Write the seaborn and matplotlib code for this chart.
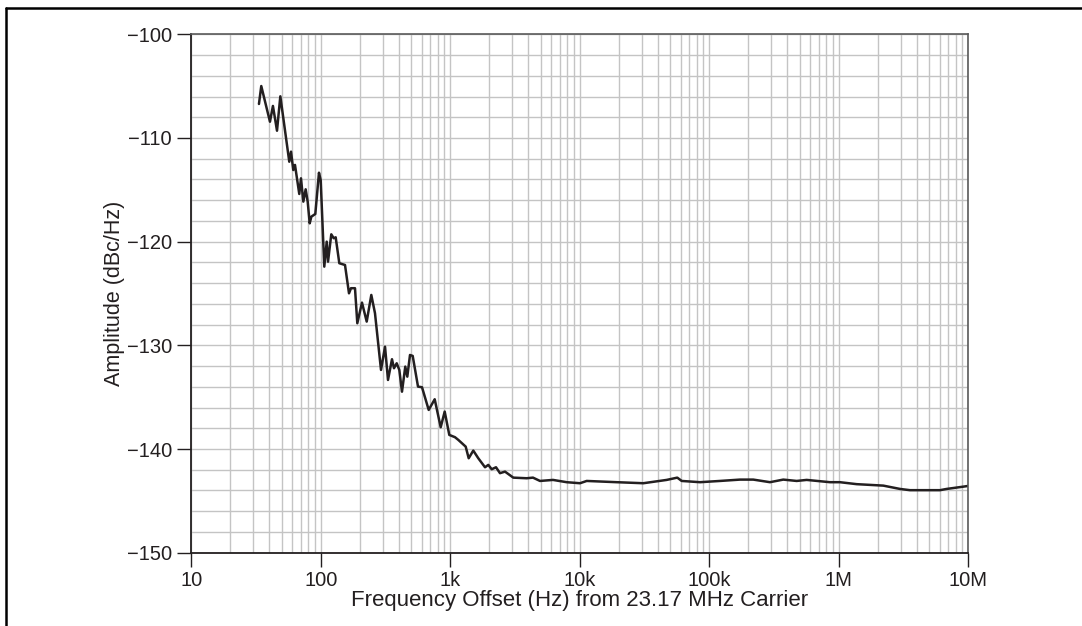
import numpy as np
import pandas as pd
import seaborn as sns
import matplotlib.pyplot as plt
from matplotlib.ticker import LogLocator, NullFormatter
from matplotlib.lines import Line2D

# Phase noise trace
freq_hz = [
    33.3, 34.7, 40.5, 42.7, 45.9, 48.7, 57.1, 58.9, 61.3, 63.2,
    68.2, 70.3, 73.3, 76.4, 79.2, 82.1, 84.5, 90.7, 96.8, 99.8,
    106.4, 111.1, 113.7, 120.5, 125.8, 130.3, 139, 153.8, 165.1, 171.1,
    183.7, 191.4, 208, 226.2, 245.5, 262.1, 291.7, 313.3, 330.3, 354.6,
    367.5, 385.6, 403.9, 423.6, 449.2, 465.6, 488.5, 512.5, 563.2, 604.7,
    681.1, 757.8, 843.1, 905.3, 982.4, 1087, 1153, 1315, 1387, 1505,
    1645, 1854, 1966, 2088, 2254, 2420, 2645, 3065, 3890, 4351,
    4928, 6209, 7920, 10035, 11310, 19270, 30930, 46880, 56600, 61220,
    84780, 120900, 172600, 218700, 294200, 372700, 473000, 565000, 855000, 1.021e6,
    1.375e6, 1.741e6, 2.206e6, 2.969e6, 3.546e6, 6.046e6, 6.81e6, 9.15e6, 1.0e7,
]
amplitude_dbc = [
    -106.72, -104.99, -108.43, -106.91, -109.30, -105.98, -112.29, -111.32, -113.09, -112.60,
    -115.40, -113.89, -116.14, -114.95, -116.14, -118.23, -117.59, -117.33, -113.35, -114.05,
    -122.41, -120.00, -121.93, -119.29, -119.67, -119.58, -122.08, -122.25, -124.98, -124.49,
    -124.49, -127.87, -125.88, -127.71, -125.14, -126.90, -132.37, -130.13, -133.34, -131.34,
    -132.21, -131.73, -132.37, -134.47, -132.05, -133.02, -130.93, -131.02, -133.98, -134.04,
    -136.23, -135.20, -137.90, -136.39, -138.64, -138.86, -139.12, -139.77, -140.89, -140.15,
    -140.89, -141.76, -141.53, -141.95, -141.76, -142.33, -142.18, -142.76, -142.82, -142.76,
    -143.08, -142.98, -143.20, -143.30, -143.08, -143.20, -143.30, -142.98, -142.76, -143.08,
    -143.20, -143.08, -142.95, -142.95, -143.20, -142.95, -143.08, -142.98, -143.20, -143.20,
    -143.39, -143.46, -143.53, -143.85, -143.97, -143.97, -143.85, -143.63, -143.56,
]

x_ticks = [10, 100, 1e3, 1e4, 1e5, 1e6, 1e7]
x_tick_labels = ["10", "100", "1k", "10k", "100k", "1M", "10M"]
y_ticks = [-150, -140, -130, -120, -110, -100]

df = pd.DataFrame({"freq": freq_hz, "amp": amplitude_dbc})

sns.set_theme(style="white")
plt.rcParams["font.family"] = ["Liberation Sans", "DejaVu Sans"]
text_color = "#231f20"

fig = plt.figure(figsize=(10.82, 6.26), dpi=100)
ax = fig.add_axes([0.1768, 0.1171, 0.8949 - 0.1768, 0.9452 - 0.1171])

sns.lineplot(data=df, x="freq", y="amp", ax=ax, color=text_color,
             linewidth=1.8, estimator=None, sort=False)

ax.set_xscale("log")
ax.set_xlim(10, 1e7)
ax.set_ylim(-150, -100)

ax.set_xticks(x_ticks, x_tick_labels)
ax.xaxis.set_minor_locator(LogLocator(base=10, subs=np.arange(2, 10)))
ax.xaxis.set_minor_formatter(NullFormatter())
ax.set_yticks(y_ticks)
ax.set_yticks(np.arange(-150, -99, 2), minor=True)

ax.grid(which="both", color="#c4c4c4", linewidth=1.0)
ax.set_axisbelow(True)

ax.tick_params(which="major", direction="out", length=10, width=1.0,
               color=text_color, labelsize=14.5, labelcolor=text_color, pad=4,
               bottom=True, left=True)
ax.tick_params(axis="x", which="major", pad=3)
ax.tick_params(which="minor", length=0)

for side in ["left", "bottom"]:
    ax.spines[side].set_color(text_color)
    ax.spines[side].set_linewidth(1.3)
for side in ["top", "right"]:
    ax.spines[side].set_color("#5a5a5a")
    ax.spines[side].set_linewidth(1.2)

ax.set_xlabel("Frequency Offset (Hz) from 23.17 MHz Carrier",
              fontsize=16, color=text_color, labelpad=0)
ax.set_ylabel("Amplitude (dBc/Hz)", fontsize=15.5, color=text_color, labelpad=1)

# frame lines at the left and top of the page
fig.add_artist(Line2D([5.5 / 1082, 5.5 / 1082], [0, 1 - 7.5 / 626],
                      transform=fig.transFigure, color="black", linewidth=1.8))
fig.add_artist(Line2D([5.5 / 1082, 1], [1 - 7.5 / 626, 1 - 7.5 / 626],
                      transform=fig.transFigure, color="black", linewidth=1.8))

fig.savefig("out.png", dpi=100)
